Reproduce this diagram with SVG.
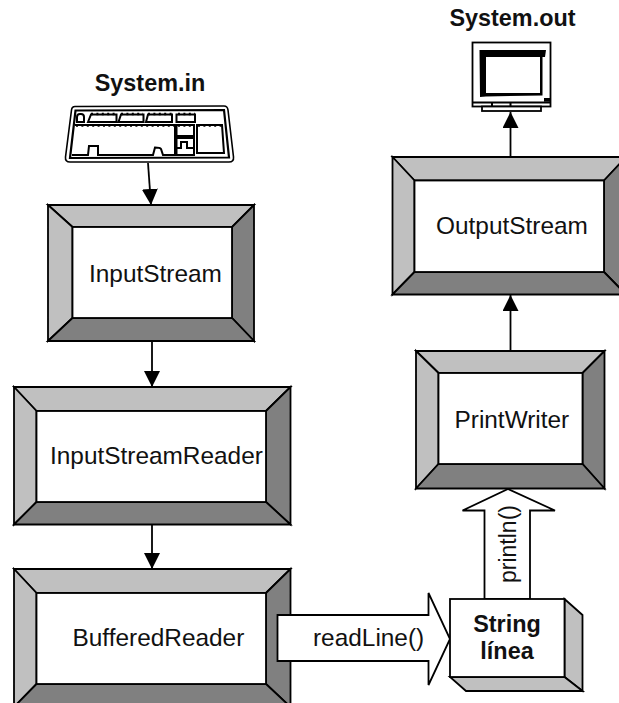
<svg xmlns="http://www.w3.org/2000/svg" width="619" height="703" viewBox="0 0 619 703">
<defs>
<marker id="head" markerUnits="userSpaceOnUse" markerWidth="16" markerHeight="16" refX="16" refY="8" orient="auto" viewBox="0 0 16 16"><path d="M0,0 L16,8 L0,16 Z" fill="#000"/></marker>
</defs>
<style>
text{font-family:"Liberation Sans",Arial,sans-serif;font-size:24.4px;fill:#111}
.b{font-weight:bold;font-size:23.4px;text-anchor:middle}
.s{stroke:#000;stroke-width:1.8;stroke-linejoin:miter}
.lt{fill:#c0c0c0}.dk{fill:#808080}.wh{fill:#fff}
.ln{fill:none;stroke:#000;stroke-width:2}
.dots{fill:none;stroke:#000;stroke-width:2.6;stroke-dasharray:2 3.4}
.k{fill:#fff;stroke:#000;stroke-width:1.6;stroke-linejoin:round}
.c{fill:none;stroke:#000;stroke-width:1.8}
.fat{fill:#fff;stroke:#000;stroke-width:1.8;stroke-linejoin:miter}
</style>
<rect width="619" height="703" fill="#fff"/>

<g id="system-in">
<text class="b" x="150" y="91">System.in</text>
<path class="k" d="M75,106.5 L224,106 Q227.5,106 228,110 L233.500,157 Q234,162 229,162 L70,162 Q65,162 65.500,157 L71.500,110 Q72,106.500 75,106.500 Z"/>
<path d="M75.500,110.500 L224,110 L229,157.500 L70,158 Z" fill="#fff" stroke="#000" stroke-width="2.200"/>
<path class="ln" d="M77,122 V117 Q77,114 80,114 H81 Q84,114 84,117 V122 Z"/>
<path class="ln" d="M88,122 L91,114.500 H116.500 V122 Z M118.500,122 L121,114.500 H143.500 V122 Z M146,122 L148,114.500 H172 V122 Z M176.500,122 V114.500 H195 V122 Z"/>
<path class="dots" d="M91,114 H116 M121,114 H143 M148,114 H172 M178,114 H195"/>
<path class="ln" d="M75,125 H175 V155 H163 L161,149 Q160,147.500 155,147.500 L153,155 H98 V146 H89 L88,155 H72"/>
<path class="dots" d="M76,125.500 H174 M178,125.500 H194 M198,125.500 H222"/>
<path class="ln" d="M176.500,125 H194 V136 H176.500 Z M176.500,138 H194 V155 H176.500 Z M176.500,148 H181 V142 H187 V148 H194"/>
<path class="ln" d="M197,125 H222 L224,153 H197 Z"/>
</g>

<g id="system-out">
<text class="b" x="512.500" y="26">System.out</text>
<rect class="wh s" x="472.500" y="42.500" width="78" height="64" stroke-width="1.500"/>
<path class="ln" d="M472.500,102.500 H550.500 M492,102.500 V106.500 M510.500,102.500 V106.500" stroke-width="1.500"/>
<rect class="wh s" x="482" y="106.500" width="59" height="4.500"/>
<path d="M479.500,50 H546 L545,57 H486 V93 H540 V57 H542.500 V95.500 L486,96.500 L480,97 Z" fill="#000"/>
<rect x="544" y="98" width="6" height="3.700" fill="#000"/>
</g>

<g id="input-stream">
<path class="lt s" d="M48,205 H254 L232,227 H72.500 Z"/>
<path class="lt s" d="M48,205 L72.500,227 V318 L48,341 Z"/>
<path class="dk s" d="M254,205 V341 L232,318 V227 Z"/>
<path class="dk s" d="M48,341 L72.500,318 H232 L254,341 Z"/>
<rect class="wh s" x="72.500" y="227" width="159.500" height="91"/>
<text x="89" y="281.500">InputStream</text>
</g>

<g id="input-stream-reader">
<path class="lt s" d="M14,387 H290.500 L266,411 H36.500 Z"/>
<path class="lt s" d="M14,387 L36.500,411 V502 L14,524.500 Z"/>
<path class="dk s" d="M290.500,387 V524.500 L266,502 V411 Z"/>
<path class="dk s" d="M14,524.500 L36.500,502 H266 L290.500,524.500 Z"/>
<rect class="wh s" x="36.500" y="411" width="229.500" height="91"/>
<text x="50" y="464">InputStreamReader</text>
</g>

<g id="buffered-reader">
<path class="lt s" d="M14,569 H290.500 L266,593 H36.500 Z"/>
<path class="lt s" d="M14,569 L36.500,593 V684 L14,707 Z"/>
<path class="dk s" d="M290.500,569 V707 L266,684 V593 Z"/>
<path class="dk s" d="M14,707 L36.500,684 H266 L290.500,707 Z"/>
<rect class="wh s" x="36.500" y="593" width="229.500" height="91"/>
<text x="72.500" y="645.500">BufferedReader</text>
</g>

<g id="output-stream">
<path class="lt s" d="M392.500,157 H626 L604,180.500 H414.500 Z"/>
<path class="lt s" d="M392.500,157 L414.500,180.500 V272 L392.500,294.500 Z"/>
<path class="dk s" d="M626,157 V294.500 L604,272 V180.500 Z"/>
<path class="dk s" d="M392.500,294.500 L414.500,272 H604 L626,294.500 Z"/>
<rect class="wh s" x="414.500" y="180.500" width="189.500" height="91.500"/>
<text x="436" y="233.500">OutputStream</text>
</g>

<g id="print-writer">
<path class="lt s" d="M416,351 H604.500 L582.500,373 H438.500 Z"/>
<path class="lt s" d="M416,351 L438.500,373 V464 L416,488.500 Z"/>
<path class="dk s" d="M604.500,351 V488.500 L582.500,464 V373 Z"/>
<path class="dk s" d="M416,488.500 L438.500,464 H582.500 L604.500,488.500 Z"/>
<rect class="wh s" x="438.500" y="373" width="144" height="91"/>
<text x="454.500" y="428">PrintWriter</text>
</g>

<g id="connectors">
<line class="c" x1="148" y1="163" x2="151" y2="205" marker-end="url(#head)"/>
<line class="c" x1="152" y1="341" x2="152" y2="387" marker-end="url(#head)"/>
<line class="c" x1="152" y1="525" x2="152" y2="569" marker-end="url(#head)"/>
<line class="c" x1="510.500" y1="351" x2="510.500" y2="295" marker-end="url(#head)"/>
<line class="c" x1="510.500" y1="157" x2="510.500" y2="112" marker-end="url(#head)"/>
<path class="fat" d="M277.500,615 H428.500 V593 L450,639 L428.500,685 V661 H277.500 Z"/>
<path class="fat" d="M484.500,599 V510.500 H462.500 L508,489 L555,510.500 H530 V599 Z"/>
</g>
<text x="313" y="645.500">readLine()</text>
<text transform="translate(515.500 583) rotate(-90)" style="font-size:24.4px" textLength="78" lengthAdjust="spacingAndGlyphs">println()</text>

<g id="string-linea">
<path class="lt s" d="M564.500,599 L582.500,615 V691 L564.500,677 Z"/>
<path class="lt s" d="M450,677 H564.500 L582.500,691 H466 Z"/>
<rect class="wh s" x="450" y="599" width="114.500" height="78"/>
<text class="b" x="507" y="632">String</text>
<text class="b" x="507" y="659">línea</text>
</g>
</svg>
